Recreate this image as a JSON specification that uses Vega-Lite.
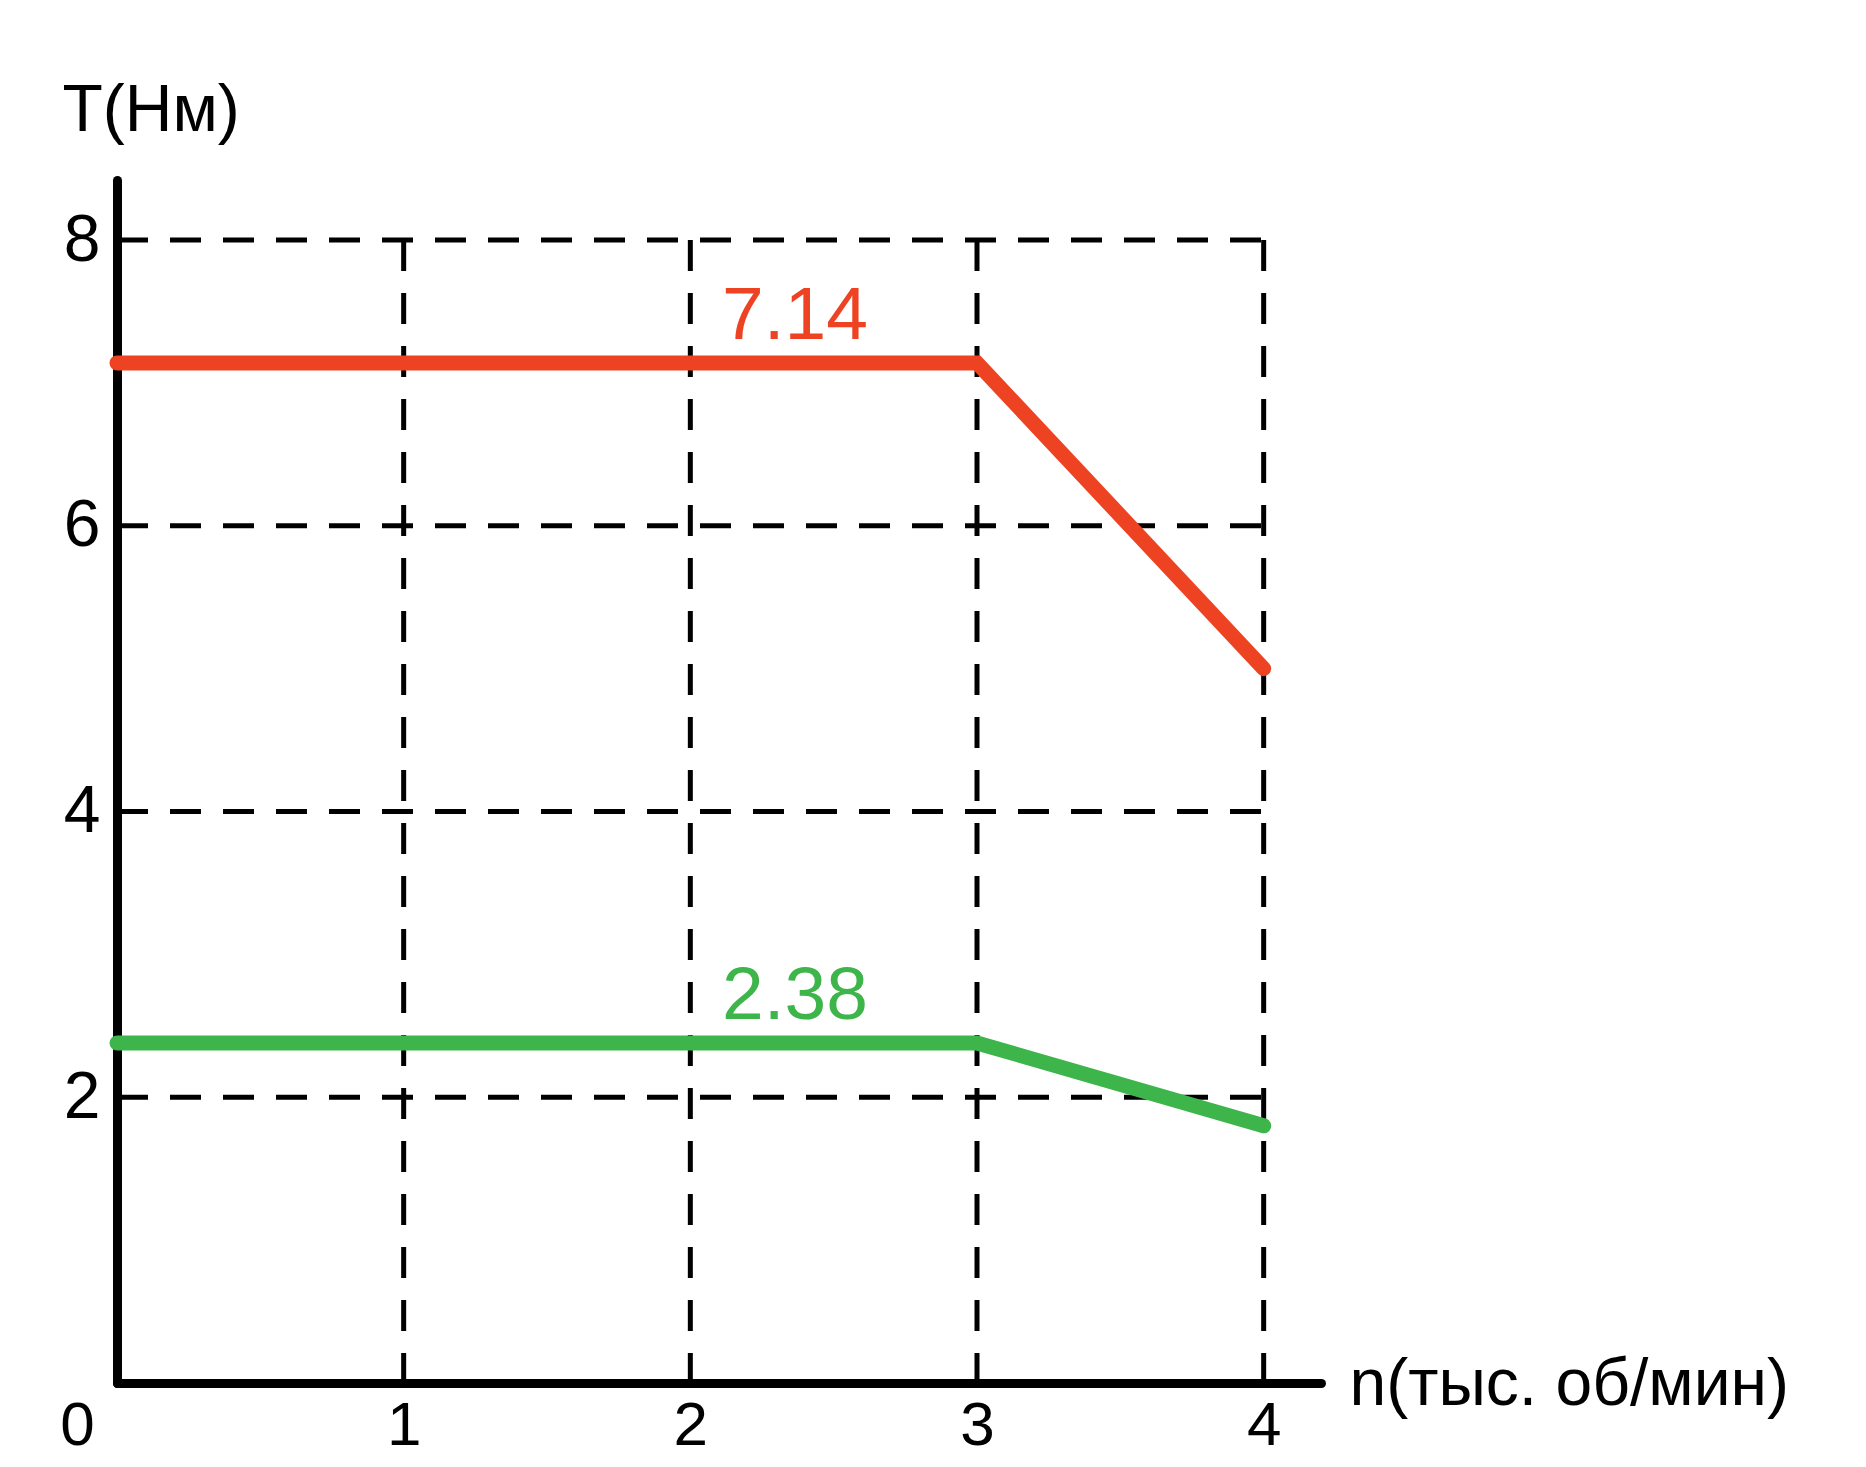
{
  "$schema": "https://vega.github.io/schema/vega-lite/v6.json",
  "autosize": "none",
  "padding": {"left": 117, "top": 180, "right": 545, "bottom": 84},
  "width": 1204,
  "height": 1203,
  "background": "white",
  "config": {"view": {"stroke": null}, "font": "Liberation Sans"},
  "datasets": {
    "grid": [
      {"n": 1, "n2": 1, "T": 8, "T2": 0},
      {"n": 2, "n2": 2, "T": 8, "T2": 0},
      {"n": 3, "n2": 3, "T": 8, "T2": 0},
      {"n": 4, "n2": 4, "T": 8, "T2": 0},
      {"n": 0, "n2": 4, "T": 2, "T2": 2},
      {"n": 0, "n2": 4, "T": 4, "T2": 4},
      {"n": 0, "n2": 4, "T": 6, "T2": 6},
      {"n": 0, "n2": 4, "T": 8, "T2": 8}
    ],
    "curves": [
      {"n": 0, "T": 7.14, "s": "red"},
      {"n": 3, "T": 7.14, "s": "red"},
      {"n": 4, "T": 5.0, "s": "red"},
      {"n": 0, "T": 2.38, "s": "green"},
      {"n": 3, "T": 2.38, "s": "green"},
      {"n": 4, "T": 1.8, "s": "green"}
    ],
    "labels": [
      {"n": 2.365, "T": 7.14, "s": "red", "label": "7.14"},
      {"n": 2.365, "T": 2.38, "s": "green", "label": "2.38"}
    ]
  },
  "encoding": {
    "x": {
      "field": "n", "type": "quantitative",
      "scale": {"domain": [0, 4.2], "nice": false, "zero": false},
      "axis": {
        "values": [0, 1, 2, 3, 4],
        "grid": false, "ticks": false, "tickSize": 0,
        "domainWidth": 9, "domainColor": "black", "domainCap": "round",
        "labelFontSize": 62, "labelColor": "black", "labelPadding": 12,
        "labelFlush": false, "labelOverlap": false, "labelBound": false,
        "labelOffset": {"condition": {"test": "datum.value === 0", "value": -40}, "value": 0},
        "title": "n(тыс. об/мин)", "titleFontSize": 66, "titleFontWeight": "normal",
        "titleColor": "black", "titleAlign": "left", "titleBaseline": "alphabetic",
        "titleAnchor": "start", "titleX": 1232, "titleY": 21
      }
    },
    "y": {
      "field": "T", "type": "quantitative",
      "scale": {"domain": [0, 8.42], "nice": false, "zero": false},
      "axis": {
        "values": [2, 4, 6, 8],
        "grid": false, "ticks": false, "tickSize": 0,
        "domainWidth": 9, "domainColor": "black", "domainCap": "round",
        "labelFontSize": 66, "labelColor": "black", "labelPadding": 17,
        "labelFlush": false, "labelOverlap": false, "labelBound": false,
        "title": "T(Нм)", "titleFontSize": 66, "titleFontWeight": "normal",
        "titleColor": "black", "titleAngle": 0, "titleAlign": "left",
        "titleBaseline": "alphabetic", "titleAnchor": "start",
        "titleX": -55, "titleY": -50
      }
    }
  },
  "layer": [
    {
      "data": {"name": "grid"},
      "mark": {"type": "rule", "color": "black", "strokeWidth": 5, "strokeDash": [31, 22]},
      "encoding": {
        "x2": {"field": "n2"},
        "y2": {"field": "T2"}
      }
    },
    {
      "data": {"name": "curves"},
      "mark": {"type": "line", "strokeWidth": 15, "strokeCap": "round"},
      "encoding": {
        "color": {"field": "s", "type": "nominal", "scale": {"domain": ["red", "green"], "range": ["#EE4322", "#3DB54A"]}, "legend": null},
        "detail": {"field": "s"}
      }
    },
    {
      "data": {"name": "labels"},
      "mark": {"type": "text", "fontSize": 75, "align": "center", "baseline": "alphabetic", "dy": -24},
      "encoding": {
        "text": {"field": "label"},
        "color": {"field": "s", "type": "nominal", "scale": {"domain": ["red", "green"], "range": ["#EE4322", "#3DB54A"]}, "legend": null}
      }
    }
  ]
}
